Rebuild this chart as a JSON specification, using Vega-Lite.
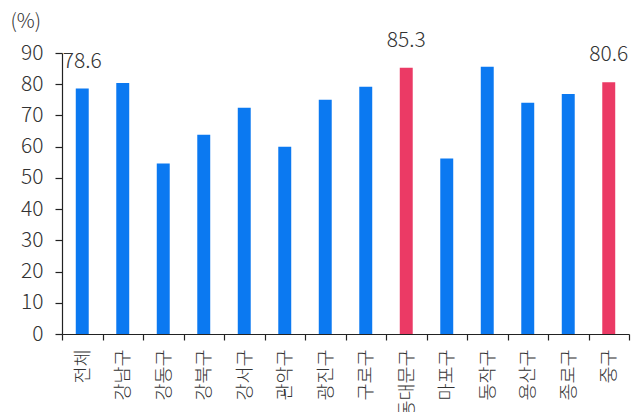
{
  "$schema": "https://vega.github.io/schema/vega-lite/v6.json",
  "width": 567,
  "height": 281,
  "autosize": {"type": "none"},
  "padding": {"left": 62, "top": 53, "right": 12, "bottom": 78},
  "config": {
    "view": {"stroke": null},
    "font": "Noto Sans CJK KR",
    "axis": {
      "domainColor": "#222222",
      "domainWidth": 1.2,
      "tickColor": "#222222",
      "tickWidth": 1.2,
      "labelColor": "#333333",
      "labelFontWeight": 300,
      "grid": false
    }
  },
  "data": {
    "values": [
      {"region": "전체", "rate": 78.6, "group": "base", "label": "78.6"},
      {"region": "강남구", "rate": 80.4, "group": "base", "label": null},
      {"region": "강동구", "rate": 54.6, "group": "base", "label": null},
      {"region": "강북구", "rate": 63.8, "group": "base", "label": null},
      {"region": "강서구", "rate": 72.5, "group": "base", "label": null},
      {"region": "관악구", "rate": 60.0, "group": "base", "label": null},
      {"region": "광진구", "rate": 75.0, "group": "base", "label": null},
      {"region": "구로구", "rate": 79.2, "group": "base", "label": null},
      {"region": "동대문구", "rate": 85.3, "group": "highlight", "label": "85.3"},
      {"region": "마포구", "rate": 56.2, "group": "base", "label": null},
      {"region": "동작구", "rate": 85.6, "group": "base", "label": null},
      {"region": "용산구", "rate": 74.1, "group": "base", "label": null},
      {"region": "종로구", "rate": 76.9, "group": "base", "label": null},
      {"region": "중구", "rate": 80.6, "group": "highlight", "label": "80.6"}
    ]
  },
  "encoding": {
    "x": {
      "field": "region",
      "type": "nominal",
      "sort": null,
      "scale": {"paddingInner": 0, "paddingOuter": 0},
      "axis": {
        "title": null,
        "labelAngle": -90,
        "labelFontSize": 18.5,
        "labelPadding": 9,
        "tickSize": 6,
        "tickBand": "extent"
      }
    },
    "y": {
      "field": "rate",
      "type": "quantitative",
      "scale": {"domain": [0, 90], "nice": false},
      "axis": {
        "values": [0, 10, 20, 30, 40, 50, 60, 70, 80, 90],
        "tickSize": 7,
        "labelPadding": 12,
        "labelFontSize": 21,
        "title": "(%)",
        "titleAngle": 0,
        "titleAlign": "left",
        "titleBaseline": "middle",
        "titleX": -52,
        "titleY": -32,
        "titleFontSize": 20,
        "titleFontWeight": 300,
        "titleColor": "#333333"
      }
    }
  },
  "layer": [
    {
      "mark": {"type": "bar", "width": {"band": 0.32}},
      "encoding": {
        "color": {
          "field": "group",
          "type": "nominal",
          "scale": {"domain": ["base", "highlight"], "range": ["#0B79F1", "#EB3A65"]},
          "legend": null
        }
      }
    },
    {
      "transform": [{"filter": "datum.label != null"}],
      "mark": {"type": "text", "baseline": "alphabetic", "dy": -21, "fontSize": 21, "fontWeight": 300, "color": "#333333"},
      "encoding": {"text": {"field": "label"}}
    }
  ]
}
